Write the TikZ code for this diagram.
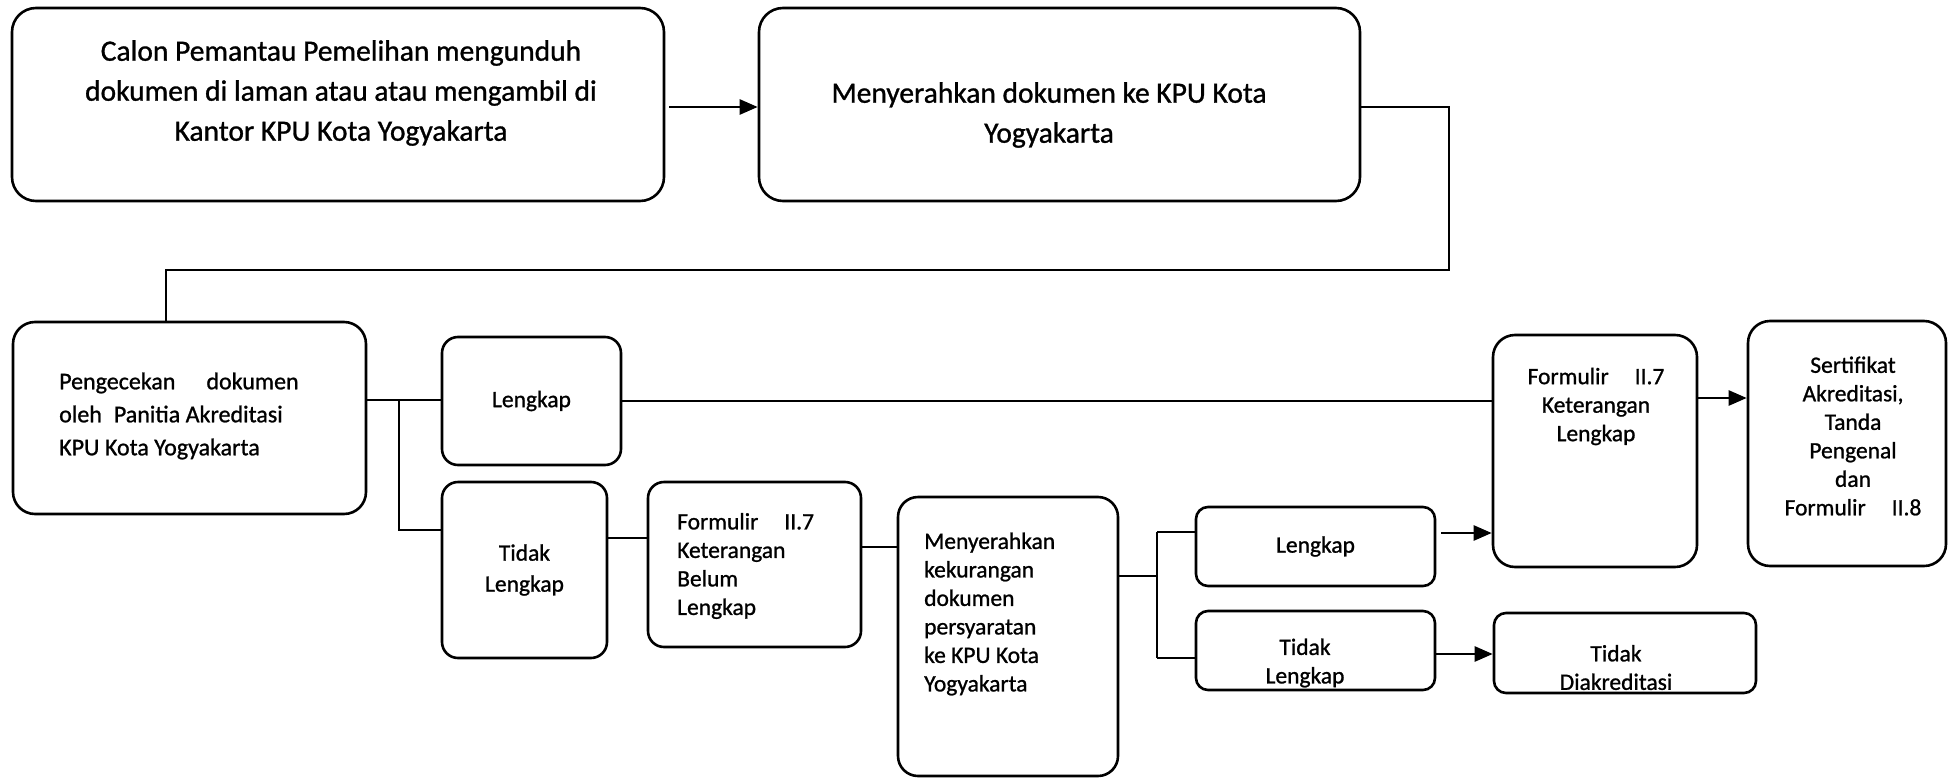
\documentclass[tikz,border=0pt]{standalone}
\usepackage{fontspec}
\setmainfont{Carlito}[FakeBold=1]
\usetikzlibrary{arrows.meta,calc}
\begin{document}
\begin{tikzpicture}[x=1pt,y=-1pt,
  box/.style={draw=black, line width=2.6pt, rounded corners=#1, inner sep=0pt},
  box/.default=14pt,
  big/.style={font=\fontsize{29.5}{40}\selectfont, inner sep=0pt},
  med/.style={font=\fontsize{24}{33}\selectfont, inner sep=0pt},
  sm/.style={font=\fontsize{23.5}{28.5}\selectfont, inner sep=0pt},
  ln/.style={line width=2.5pt},
  arr/.style={ln, -{Triangle[length=18pt,width=15pt]}}]
\useasboundingbox (0,0) rectangle (1949,779);

% boxes
\node[box=24pt, minimum width=652pt, minimum height=193pt] (a) at (338,104.5) {};
\node[big, align=center] (ta) at (341,93) {Calon Pemantau Pemelihan mengunduh\\dokumen di laman atau atau mengambil di\\Kantor KPU Kota Yogyakarta};

\node[box=24pt, minimum width=601pt, minimum height=193pt] (b) at (1059.5,104.5) {};
\node[big, align=center] (tb) at (1049,115) {Menyerahkan dokumen ke KPU Kota\\Yogyakarta};

\node[box=22pt, minimum width=353pt, minimum height=192pt] (c) at (189.5,418) {};
\node[med, align=left, anchor=west] (tc) at (59,416) {Pengecekan\hspace{31pt}dokumen\\oleh\hspace{12pt}Panitia Akreditasi\\KPU Kota Yogyakarta};

\node[box=16pt, minimum width=179pt, minimum height=128pt, sm] (l1) at (531.5,401) {Lengkap};
\node[box=16pt, minimum width=165pt, minimum height=176pt, sm, font=\fontsize{23.5}{31}\selectfont, align=center] (t1) at (524.5,570) {Tidak\\Lengkap};

\node[box=16pt, minimum width=213pt, minimum height=165pt] (fb) at (754.5,564.5) {};
\node[sm, align=left, anchor=west] (tfb) at (677,566) {Formulir\hspace{26pt}II.7\\Keterangan\\Belum\\Lengkap};

\node[box=20pt, minimum width=220pt, minimum height=279pt] (mk) at (1008,636.5) {};
\node[sm, align=left, anchor=west] (tmk) at (924,614) {Menyerahkan\\kekurangan\\dokumen\\persyaratan\\ke KPU Kota\\Yogyakarta};

\node[box=12pt, minimum width=239pt, minimum height=79pt, sm] (l2) at (1315.5,546.5) {Lengkap};
\node[box=12pt, minimum width=239pt, minimum height=79pt] (t2) at (1315.5,650.5) {};
\node[sm, align=center] (tt2) at (1305,663) {Tidak\\Lengkap};

\node[box=22pt, minimum width=204pt, minimum height=232pt] (fl) at (1595,451) {};
\node[sm, align=center] (tfl) at (1596,406.5) {Formulir\hspace{26pt}II.7\\Keterangan\\Lengkap};

\node[box=22pt, minimum width=198pt, minimum height=245pt] (s) at (1847,443.5) {};
\node[sm, align=center] (ts) at (1853,436) {Sertifikat\\Akreditasi,\\Tanda\\Pengenal\\dan\\Formulir\hspace{26pt}II.8};

\node[box=12pt, minimum width=262pt, minimum height=80pt] (td) at (1625,653) {};
\node[sm, align=center] (ttd) at (1616,667.5) {Tidak\\Diakreditasi};

% connectors
\draw[arr, shorten <=4pt] (a.east |- 0,107) -- (b.west |- 0,107);

\coordinate (bc) at (1449,270);
\coordinate (cin) at (c.north -| 166,0);
\draw[ln] (b.east |- 0,107) -| (bc) -| (cin);

\coordinate (cbt) at (399,400);
\coordinate (cbb) at (399,530);
\draw[ln] (c.east |- cbt) -- (l1.west |- cbt);
\draw[ln] (cbt) -- (cbb) -- (t1.west |- cbb);

\draw[ln] (l1.east) -- (l1.east -| fl.west);
\draw[ln] (t1.east |- 0,538) -- (fb.west |- 0,538);
\draw[ln] (fb.east |- 0,547) -- (mk.west |- 0,547);

\coordinate (mbt) at (1157,532);
\coordinate (mbm) at (1157,576);
\coordinate (mbb) at (1157,658);
\draw[ln] (mk.east |- mbm) -- (mbm);
\draw[ln] (mbt) -- (mbb);
\draw[ln] (mbt) -- (l2.west |- mbt);
\draw[ln] (mbb) -- (t2.west |- mbb);

\draw[arr, shorten <=5pt] (l2.east |- 0,533) -- (fl.west |- 0,533);
\draw[arr] (t2.east |- 0,654) -- (td.west |- 0,654);
\draw[arr] (fl.east |- 0,398) -- (s.west |- 0,398);
\end{tikzpicture}
\end{document}
